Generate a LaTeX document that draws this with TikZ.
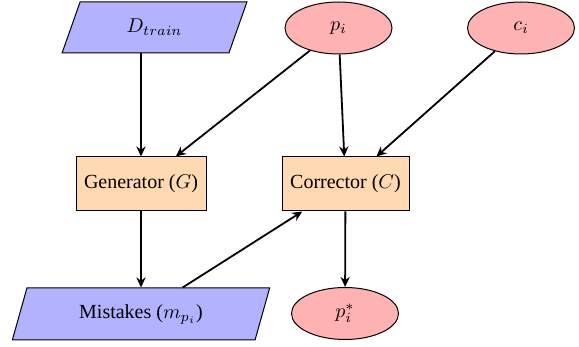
\documentclass[tikz,border=0pt]{standalone}
\usepackage{fontspec}
\setmainfont{Liberation Serif}
\usetikzlibrary{shapes.geometric,arrows.meta}
\begin{document}
\begin{tikzpicture}[x=0.5pt,y=-0.5pt,
  databox/.style={trapezium, trapezium left angle=68, trapezium right angle=112,
    trapezium stretches=true,
    draw=black, line width=0.5pt, fill=blue!30, inner sep=0pt},
  varnode/.style={ellipse, draw=black, line width=0.5pt, fill=red!30,
    minimum width=53.5pt, minimum height=26pt, inner sep=0pt},
  procbox/.style={rectangle, draw=black, line width=0.5pt, fill=orange!30,
    minimum height=27pt, inner sep=0pt},
  arr/.style={line width=0.9pt, -{Stealth[length=5pt,width=4.6pt,inset=1.6pt]}}]
\useasboundingbox (0,0) rectangle (579,347);
\node[databox, minimum width=92.5pt, minimum height=25.5pt] (dtrain) at (154.5,27.5) {$D_{train}$};
\node[varnode] (pi) at (338.5,28) {$p_i$};
\node[varnode] (ci) at (521,28) {$c_i$};
\node[procbox, minimum width=65pt] (gen) at (141,184) {Generator ($G$)};
\node[procbox, minimum width=63.5pt] (corr) at (345.5,184) {Corrector ($C$)};
\node[databox, minimum width=129pt, minimum height=26pt] (mist) at (141,314) {Mistakes ($m_{p_i}$)};
\node[varnode] (pstar) at (345,313.5) {$p_i^*$};
\draw[arr] (gen.north |- dtrain.south) -- (gen.north);
\draw[arr] (pi) -- (gen);
\draw[arr] (pi) -- (corr);
\draw[arr] (ci) -- (corr);
\draw[arr] (gen) -- (mist);
\draw[arr] (mist) -- (corr);
\draw[arr] (corr) -- (pstar);
\end{tikzpicture}
\end{document}
